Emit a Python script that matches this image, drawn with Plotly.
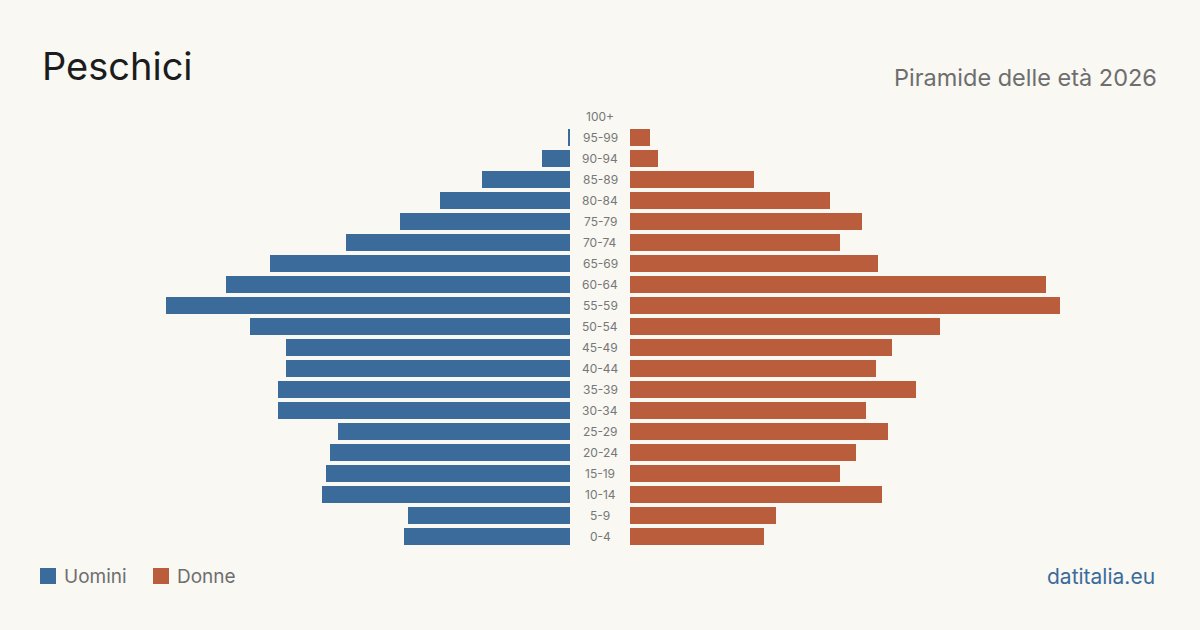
import plotly.graph_objects as go

W, H = 1200, 630

age_groups = ["0-4", "5-9", "10-14", "15-19", "20-24", "25-29", "30-34", "35-39",
              "40-44", "45-49", "50-54", "55-59", "60-64", "65-69", "70-74",
              "75-79", "80-84", "85-89", "90-94", "95-99", "100+"]
uomini = [83, 81, 124, 122, 120, 116, 146, 146, 142, 142, 160, 202, 172, 150,
          112, 85, 65, 44, 14, 1, 0]
donne = [67, 73, 126, 105, 113, 129, 118, 143, 123, 131, 155, 215, 208, 124,
         105, 116, 100, 62, 14, 10, 0]

title_text = "Peschici"
subtitle_text = "Piramide delle età 2026"
legend_labels = ["Uomini", "Donne"]
source_text = "datitalia.eu"

BLUE = "#3b6b9b"
ORANGE = "#b95d3d"
BG = "#f9f8f3"
FONT = "Inter, 'Noto Sans', sans-serif"

RANGE_MAX = 250  # 2 px per person
male_right, female_left = 570, 630
px_per = 2
male_dom = [(male_right - RANGE_MAX * px_per) / W, male_right / W]
female_dom = [female_left / W, (female_left + RANGE_MAX * px_per) / W]
y_top, y_bot = 106, 547
y_dom = [1 - y_bot / H, 1 - y_top / H]

fig = go.Figure()
fig.add_trace(go.Bar(y=age_groups, x=uomini, orientation="h", name=legend_labels[0],
                     marker=dict(color=BLUE, line=dict(width=0)),
                     xaxis="x", yaxis="y", showlegend=False,
                     hovertemplate="%{y}: %{x}<extra>Uomini</extra>"))
fig.add_trace(go.Bar(y=age_groups, x=donne, orientation="h", name=legend_labels[1],
                     marker=dict(color=ORANGE, line=dict(width=0)),
                     xaxis="x2", yaxis="y", showlegend=False,
                     hovertemplate="%{y}: %{x}<extra>Donne</extra>"))

annotations = []
for ag in age_groups:
    annotations.append(dict(x=600 / W, y=ag, xref="paper", yref="y", text=ag,
                            showarrow=False, xanchor="center", yanchor="middle",
                            font=dict(family=FONT, size=12, color="#777777")))

annotations.append(dict(x=40 / W, y=1 - 66 / H, xref="paper", yref="paper",
                        text=title_text, showarrow=False, xanchor="left", yanchor="middle",
                        font=dict(family=FONT, size=38, color="#1c1c1c")))
annotations.append(dict(x=1159 / W, y=1 - 77 / H, xref="paper", yref="paper",
                        text=subtitle_text, showarrow=False, xanchor="right", yanchor="middle",
                        font=dict(family=FONT, size=23.5, color="#6e6e6e")))
annotations.append(dict(x=62 / W, y=1 - 576 / H, xref="paper", yref="paper",
                        text=legend_labels[0], showarrow=False, xanchor="left", yanchor="middle",
                        font=dict(family=FONT, size=19, color="#6e6e6e")))
annotations.append(dict(x=175 / W, y=1 - 576 / H, xref="paper", yref="paper",
                        text=legend_labels[1], showarrow=False, xanchor="left", yanchor="middle",
                        font=dict(family=FONT, size=19, color="#6e6e6e")))
annotations.append(dict(x=1157 / W, y=1 - 576 / H, xref="paper", yref="paper",
                        text=source_text, showarrow=False, xanchor="right", yanchor="middle",
                        font=dict(family=FONT, size=21, color=BLUE)))

shapes = [
    dict(type="rect", xref="paper", yref="paper", x0=40 / W, x1=56 / W,
         y0=1 - 584 / H, y1=1 - 568 / H, fillcolor=BLUE, line=dict(width=0)),
    dict(type="rect", xref="paper", yref="paper", x0=153 / W, x1=169 / W,
         y0=1 - 584 / H, y1=1 - 568 / H, fillcolor=ORANGE, line=dict(width=0)),
]

fig.update_layout(
    width=W, height=H,
    margin=dict(l=0, r=0, t=0, b=0),
    paper_bgcolor=BG, plot_bgcolor=BG,
    barmode="overlay", bargap=4 / 21,
    font=dict(family=FONT),
    xaxis=dict(domain=male_dom, range=[RANGE_MAX, 0], visible=False, fixedrange=True),
    xaxis2=dict(domain=female_dom, range=[0, RANGE_MAX], visible=False, fixedrange=True,
                anchor="y"),
    yaxis=dict(domain=y_dom, type="category", categoryorder="array",
               categoryarray=age_groups, range=[-0.5, len(age_groups) - 0.5],
               visible=False, fixedrange=True),
    annotations=annotations,
    shapes=shapes,
)

fig.write_html("out.html")
